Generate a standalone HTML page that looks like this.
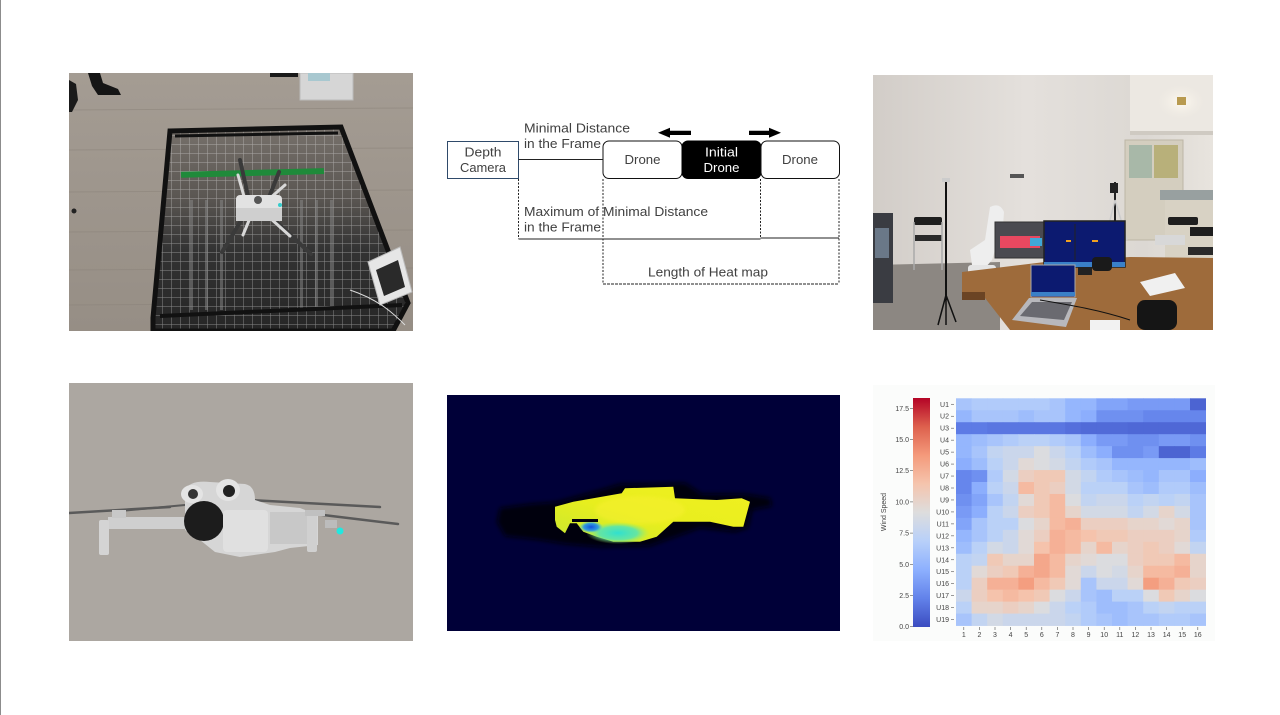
<!DOCTYPE html>
<html><head><meta charset="utf-8"><style>
html,body{margin:0;padding:0;background:#fff;}
body{width:1280px;height:715px;overflow:hidden;position:relative;}
svg{position:absolute;left:0;top:0;}
</style></head><body>
<svg width="1280" height="715" viewBox="0 0 1280 715" xmlns="http://www.w3.org/2000/svg" font-family="Liberation Sans, sans-serif">
<defs>
  <clipPath id="c1"><rect x="69" y="73" width="344" height="258"/></clipPath>
  <clipPath id="c2"><rect x="873" y="75" width="340" height="255"/></clipPath>
  <clipPath id="c3"><rect x="69" y="383" width="344" height="258"/></clipPath>
  <clipPath id="c4"><rect x="447" y="395" width="393" height="236"/></clipPath>
  <filter id="blur2" x="-20%" y="-50%" width="140%" height="200%"><feGaussianBlur stdDeviation="2.5"/></filter>
  <filter id="blur1"><feGaussianBlur stdDeviation="1.5"/></filter>
  <linearGradient id="floor1" x1="0" y1="0" x2="0" y2="1">
    <stop offset="0" stop-color="#a49c93"/><stop offset="1" stop-color="#968e85"/>
  </linearGradient>
  <linearGradient id="cage" x1="0" y1="0" x2="0" y2="1">
    <stop offset="0" stop-color="#77716b"/><stop offset="0.35" stop-color="#5a5652"/><stop offset="0.6" stop-color="#333"/><stop offset="1" stop-color="#262626"/>
  </linearGradient>
  <linearGradient id="wall" x1="0" y1="0" x2="1" y2="0">
    <stop offset="0" stop-color="#d2cdc8"/><stop offset="0.45" stop-color="#e4e0dc"/><stop offset="0.8" stop-color="#dcd8d3"/><stop offset="1" stop-color="#e8e4de"/>
  </linearGradient>
  <linearGradient id="cb" x1="0" y1="1" x2="0" y2="0">
    <stop offset="0" stop-color="#3b4cc0"/>
    <stop offset="0.125" stop-color="#6282ea"/>
    <stop offset="0.25" stop-color="#8db0fe"/>
    <stop offset="0.375" stop-color="#b8d0f9"/>
    <stop offset="0.5" stop-color="#dddddd"/>
    <stop offset="0.625" stop-color="#f5c4ad"/>
    <stop offset="0.75" stop-color="#f49a7b"/>
    <stop offset="0.875" stop-color="#dd604d"/>
    <stop offset="1" stop-color="#b40426"/>
  </linearGradient>
  <linearGradient id="blob" x1="0" y1="1" x2="1" y2="0">
    <stop offset="0" stop-color="#c8e830"/><stop offset="0.45" stop-color="#e8ee1e"/><stop offset="1" stop-color="#f0f020"/>
  </linearGradient>
  <radialGradient id="cyan" cx="0.5" cy="0.5" r="0.5">
    <stop offset="0" stop-color="#30e0d0"/><stop offset="0.6" stop-color="#50e4b8" stop-opacity="0.85"/><stop offset="1" stop-color="#a0f060" stop-opacity="0"/>
  </radialGradient>
  <radialGradient id="blu" cx="0.5" cy="0.5" r="0.5">
    <stop offset="0" stop-color="#1050e0"/><stop offset="0.6" stop-color="#2090f0" stop-opacity="0.9"/><stop offset="1" stop-color="#40d0e0" stop-opacity="0"/>
  </radialGradient>
  <radialGradient id="lamp" cx="0.5" cy="0.5" r="0.5">
    <stop offset="0" stop-color="#fffaf0"/><stop offset="1" stop-color="#e8e4de" stop-opacity="0"/>
  </radialGradient>
  <pattern id="grid1" width="9" height="9" patternUnits="userSpaceOnUse">
    <path d="M0 0H9M0 0V9" stroke="#e8e8e8" stroke-opacity="0.5" stroke-width="1" fill="none"/>
  </pattern>
</defs>

<rect x="0" y="0" width="1280" height="715" fill="#ffffff"/>
<rect x="0" y="0" width="1" height="715" fill="#8c8c8c"/>

<!-- ===== Photo 1: cage with drone ===== -->
<g clip-path="url(#c1)">
  <rect x="69" y="73" width="344" height="258" fill="url(#floor1)"/>
  <g stroke="#8a8279" stroke-width="1" opacity="0.5">
    <line x1="69" y1="110" x2="413" y2="108"/><line x1="69" y1="150" x2="413" y2="148"/>
    <line x1="69" y1="192" x2="413" y2="190"/><line x1="69" y1="232" x2="413" y2="230"/>
    <line x1="69" y1="270" x2="413" y2="268"/><line x1="69" y1="305" x2="413" y2="303"/>
  </g>
  <!-- shoes -->
  <path d="M88 73 L100 73 L103 83 L118 89 L121 95 L98 95 L92 86Z" fill="#151515"/>
  <path d="M69 80 L76 84 L78 100 L72 112 L69 112Z" fill="#1a1a1a"/>
  <rect x="270" y="73" width="28" height="4" fill="#1a1a1a"/>
  <!-- box top -->
  <rect x="300" y="73" width="53" height="27" fill="#d6d6d6" stroke="#bbb"/>
  <rect x="308" y="73" width="22" height="8" fill="#a8c8d0"/>
  <circle cx="74" cy="211" r="2.5" fill="#222"/>
  <!-- cage -->
  <polygon points="170,131 341,127 408,303 393,331 153,331 153,318" fill="url(#cage)"/>
  <polygon points="170,131 341,127 408,303 393,331 153,331 153,318" fill="url(#grid1)"/>
  <rect x="181" y="170" width="143" height="6" fill="#1f8a3a" transform="rotate(-1.5 250 173)"/>
  <g fill="#8a8a8a" opacity="0.5">
    <rect x="190" y="200" width="3" height="110"/><rect x="205" y="200" width="3" height="110"/>
    <rect x="220" y="200" width="3" height="110"/><rect x="300" y="200" width="3" height="110"/>
    <rect x="315" y="200" width="3" height="110"/><rect x="330" y="200" width="3" height="110"/>
  </g>
  <polygon points="170,131 341,127 408,303 393,331 153,331 153,318" fill="none" stroke="#111" stroke-width="5"/>
  <line x1="175" y1="136" x2="338" y2="133" stroke="#111" stroke-width="3"/>
  <line x1="160" y1="316" x2="402" y2="305" stroke="#111" stroke-width="4"/>
  <!-- drone -->
  <g stroke="#3a3a3a" stroke-width="4" stroke-linecap="round">
    <line x1="250" y1="205" x2="240" y2="160"/><line x1="266" y1="205" x2="279" y2="172"/>
    <line x1="245" y1="214" x2="222" y2="252"/><line x1="268" y1="214" x2="311" y2="254"/>
  </g>
  <g stroke="#d8d8d8" stroke-width="3" stroke-linecap="round">
    <line x1="245" y1="200" x2="238" y2="175"/><line x1="268" y1="200" x2="285" y2="185"/>
    <line x1="250" y1="218" x2="243" y2="235"/><line x1="270" y1="218" x2="290" y2="236"/>
  </g>
  <rect x="236" y="195" width="46" height="26" rx="4" fill="#e2e2e2"/>
  <rect x="236" y="208" width="46" height="13" fill="#cfcfcf"/>
  <circle cx="258" cy="200" r="4" fill="#555"/>
  <circle cx="280" cy="205" r="2" fill="#3cc"/>
  <!-- white box right -->
  <polygon points="368,262 400,247 412,292 380,305" fill="#e6e6e6" stroke="#bbb"/>
  <polygon points="376,270 398,260 405,287 384,296" fill="#2a2a2a"/>
  <path d="M350 290 C 380 300, 395 315, 405 325" stroke="#ddd" fill="none"/>
</g>

<!-- ===== Diagram ===== -->
<g font-size="13" fill="#404040">
  <rect x="447.5" y="141.5" width="71" height="37" fill="#fff" stroke="#2f4a6a" stroke-width="1"/>
  <text x="483" y="156.5" text-anchor="middle" textLength="37" lengthAdjust="spacingAndGlyphs">Depth</text>
  <text x="483" y="172" text-anchor="middle" textLength="46" lengthAdjust="spacingAndGlyphs">Camera</text>

  <rect x="603" y="141" width="79" height="37.5" rx="6" fill="#fff" stroke="#111" stroke-width="1"/>
  <rect x="682" y="141" width="79" height="37.5" rx="6" fill="#000" stroke="#000" stroke-width="1"/>
  <rect x="761" y="141" width="78.5" height="37.5" rx="6" fill="#fff" stroke="#111" stroke-width="1"/>
  <text x="642.5" y="164" text-anchor="middle" textLength="36" lengthAdjust="spacingAndGlyphs">Drone</text>
  <text x="721.5" y="156.5" text-anchor="middle" fill="#fff" textLength="33" lengthAdjust="spacingAndGlyphs">Initial</text>
  <text x="721.5" y="172" text-anchor="middle" fill="#fff" textLength="36" lengthAdjust="spacingAndGlyphs">Drone</text>
  <text x="800" y="164" text-anchor="middle" textLength="36" lengthAdjust="spacingAndGlyphs">Drone</text>

  <!-- arrows -->
  <polygon points="658,132.8 670,127.8 670,130.8 691,130.8 691,135 670,135 670,137.8" fill="#000"/>
  <polygon points="781,132.8 769,127.8 769,130.8 749,130.8 749,135 769,135 769,137.8" fill="#000"/>

  <line x1="518.5" y1="159.5" x2="603" y2="159.5" stroke="#222" stroke-width="1"/>
  <text x="524" y="132.5" textLength="106" lengthAdjust="spacingAndGlyphs">Minimal Distance</text>
  <text x="524" y="148" textLength="77" lengthAdjust="spacingAndGlyphs">in the Frame</text>

  <g stroke="#222" stroke-width="1" fill="none">
    <line x1="518.5" y1="179" x2="518.5" y2="239" stroke-dasharray="2,1.5"/>
    <line x1="603" y1="179" x2="603" y2="284" stroke-dasharray="2,1.5"/>
    <line x1="760.5" y1="179" x2="760.5" y2="238.5" stroke-dasharray="2,1.5"/>
    <line x1="839" y1="179" x2="839" y2="284" stroke-dasharray="2,1.5"/>
    <line x1="518.5" y1="239" x2="760.5" y2="239"/>
    <line x1="760.5" y1="238" x2="839" y2="238"/>
    <line x1="603" y1="284" x2="839" y2="284" stroke-dasharray="3,1"/>
  </g>
  <text x="524" y="216" textLength="184" lengthAdjust="spacingAndGlyphs">Maximum of Minimal Distance</text>
  <text x="524" y="231.5" textLength="77" lengthAdjust="spacingAndGlyphs">in the Frame</text>
  <text x="708" y="276.5" text-anchor="middle" textLength="120" lengthAdjust="spacingAndGlyphs">Length of Heat map</text>
</g>

<!-- ===== Photo 2: room ===== -->
<g clip-path="url(#c2)">
  <rect x="873" y="75" width="340" height="255" fill="url(#wall)"/>
  <rect x="1130" y="75" width="83" height="58" fill="#ece8e2"/>
  <ellipse cx="1181" cy="102" rx="30" ry="22" fill="url(#lamp)"/>
  <rect x="1177" y="97" width="9" height="8" fill="#b89a50"/>
  <rect x="1130" y="131" width="83" height="4" fill="#cfcac2"/>
  <!-- floor -->
  <polygon points="873,265 1000,262 1000,330 873,330" fill="#8c8782"/>
  <!-- cabinet -->
  <rect x="1125" y="140" width="58" height="100" fill="#d4cebf" stroke="#bdb6a6"/>
  <rect x="1129" y="145" width="23" height="33" fill="#a8b8a8"/>
  <rect x="1154" y="145" width="24" height="33" fill="#b8b07a"/>
  <rect x="1160" y="190" width="53" height="10" fill="#98a0a0"/>
  <rect x="1165" y="200" width="48" height="60" fill="#d8d2c4"/>
  <!-- left shelf -->
  <rect x="873" y="213" width="20" height="90" fill="#3a3c42"/>
  <rect x="875" y="228" width="14" height="30" fill="#6a7888"/>
  <!-- left chair -->
  <rect x="914" y="217" width="28" height="8" rx="2" fill="#1e1e1e"/>
  <rect x="915" y="235" width="27" height="6" fill="#2a2a2a"/>
  <path d="M914 222 V270 M942 222 V270" stroke="#aaa" stroke-width="1.5"/>
  <!-- tripod left -->
  <line x1="946" y1="180" x2="946" y2="300" stroke="#111" stroke-width="2"/>
  <path d="M946 295 L938 325 M946 295 L956 322 M946 295 L946 325" stroke="#111" stroke-width="1.5"/>
  <rect x="942" y="178" width="8" height="4" fill="#ccc"/>
  <!-- drone small -->
  <rect x="1010" y="174" width="14" height="4" fill="#555"/>
  <!-- robot arm -->
  <path d="M990 207 Q 1000 202 1004 212 L1002 240 Q1000 250 995 250 L992 260 L985 268 L972 265 L970 250 L985 240 Z" fill="#eeeeee"/>
  <rect x="968" y="265" width="28" height="14" rx="3" fill="#e4e4e4"/>
  <!-- led cage -->
  <rect x="995" y="222" width="50" height="36" fill="#4a4a50" stroke="#333"/>
  <rect x="1000" y="236" width="40" height="12" fill="#e84860"/>
  <rect x="1030" y="238" width="12" height="8" fill="#40a8d8"/>
  <!-- tripod right -->
  <line x1="1115" y1="182" x2="1115" y2="235" stroke="#222" stroke-width="2"/>
  <path d="M1115 200 L1105 240 M1115 200 L1127 240" stroke="#ccc" stroke-width="1.5"/>
  <rect x="1110" y="183" width="8" height="10" fill="#222"/>
  <!-- right chairs -->
  <rect x="1168" y="217" width="30" height="8" rx="2" fill="#1e1e1e"/>
  <rect x="1155" y="235" width="30" height="10" fill="#d8d8d8"/>
  <rect x="1190" y="227" width="23" height="9" fill="#1e1e1e"/>
  <rect x="1188" y="247" width="25" height="8" fill="#2a2a2a"/>
  <!-- table -->
  <polygon points="962,272 1045,262 1130,257 1213,258 1213,330 1010,330 985,298 962,298" fill="#9e6b3b"/>
  <polygon points="962,292 985,292 985,300 962,300" fill="#6b4424"/>
  <!-- monitor -->
  <rect x="1044" y="221" width="81" height="46" fill="#0c1a70" stroke="#222" stroke-width="1.5"/>
  <rect x="1044" y="262" width="81" height="5" fill="#3a80c8"/>
  <line x1="1075" y1="224" x2="1075" y2="260" stroke="#222"/>
  <rect x="1066" y="240" width="5" height="2" fill="#f0a020"/>
  <rect x="1092" y="240" width="6" height="2" fill="#f0a020"/>
  <rect x="1078" y="267" width="14" height="8" fill="#222"/>
  <!-- laptop -->
  <rect x="1031" y="265" width="44" height="32" fill="#0c1a70" stroke="#aaa"/>
  <rect x="1031" y="292" width="44" height="4" fill="#3a80c8"/>
  <polygon points="1029,298 1077,298 1066,327 1012,320" fill="#b8b8bc"/>
  <polygon points="1032,302 1072,302 1064,320 1020,316" fill="#6a6a70"/>
  <!-- bags/papers -->
  <rect x="1137" y="300" width="40" height="30" rx="8" fill="#151515"/>
  <rect x="1092" y="257" width="20" height="14" rx="4" fill="#1a1a1a"/>
  <polygon points="1140,282 1175,273 1185,288 1150,296" fill="#f0f0f0"/>
  <rect x="1090" y="320" width="30" height="10" fill="#f2f2f2"/>
  <path d="M1040 300 C 1070 305, 1100 310, 1130 320" stroke="#111" fill="none"/>
</g>

<!-- ===== Photo 3: drone hover ===== -->
<g clip-path="url(#c3)">
  <rect x="69" y="383" width="344" height="258" fill="#aaa59f"/>
  <rect x="69" y="383" width="344" height="258" fill="#b0aba5" opacity="0.4"/>
  <!-- props -->
  <g stroke="#5a5a5a" stroke-linecap="round">
    <line x1="69" y1="513" x2="170" y2="507" stroke-width="2.5"/>
    <line x1="120" y1="511" x2="185" y2="505" stroke-width="2"/>
    <line x1="250" y1="500" x2="380" y2="507" stroke-width="2.5"/>
    <line x1="315" y1="514" x2="398" y2="524" stroke-width="2.5"/>
  </g>
  <!-- left arm and leg -->
  <rect x="108" y="517" width="85" height="12" fill="#cfcfcf"/>
  <rect x="99" y="520" width="10" height="35" rx="2" fill="#d4d4d4"/>
  <rect x="112" y="510" width="14" height="8" fill="#c8c8c8"/>
  <!-- body -->
  <path d="M185 490 Q 190 480 210 482 L 245 484 Q 255 486 255 500 L 270 505 L 300 508 L 318 515 L 318 545 L 290 548 L 275 552 L 240 557 L 215 552 L 200 540 L 185 530 Z" fill="#d6d6d6"/>
  <ellipse cx="192" cy="494" rx="11" ry="9" fill="#e4e4e4"/>
  <circle cx="193" cy="494" r="5" fill="#333"/>
  <ellipse cx="228" cy="490" rx="12" ry="11" fill="#e4e4e4"/>
  <circle cx="229" cy="491" r="6" fill="#222"/>
  <ellipse cx="204" cy="521" rx="20" ry="20" fill="#1c1c1c"/>
  <rect x="223" y="510" width="45" height="42" rx="4" fill="#e0e0e0"/>
  <rect x="270" y="512" width="40" height="32" fill="#c8c8c8"/>
  <rect x="307" y="514" width="10" height="38" rx="2" fill="#d0d0d0"/>
  <rect x="305" y="510" width="20" height="6" fill="#c0c0c0"/>
  <rect x="325" y="520" width="12" height="8" fill="#bcbcbc"/>
  <circle cx="340" cy="531" r="3.5" fill="#20e8e0"/>
</g>

<!-- ===== Depth image ===== -->
<rect x="447" y="395" width="393" height="236" fill="#000038"/>
<g clip-path="url(#c4)">
  <path d="M500 508 L530 504 L556 502 L600 490 L620 484 L685 483 L702 494 L745 494 L770 498 L772 506 L752 510 L748 528 L735 532 L700 528 L672 538 L650 546 L600 547 L565 544 L540 540 L505 536 L497 522 Z" fill="#000008" filter="url(#blur2)"/>
  <polygon points="555,506.7 573.3,501.7 621.7,493.3 625,488.3 673.3,486.7 675,498.3 716.7,500 741.7,498.3 750,501.7 743.3,526.7 733.3,526.7 710,521.7 673.3,521.7 656.7,536.7 640,541.7 613.3,541.7 596.7,536.7 583.3,531.7 576.7,523.3 570,523.3 565,533.3 556.7,526.7 555,520" fill="url(#blob)"/>
  <ellipse cx="640" cy="510" rx="45" ry="14" fill="#f8f030" opacity="0.5" filter="url(#blur1)"/>
  <ellipse cx="618" cy="533" rx="32" ry="11" fill="url(#cyan)"/>
  <ellipse cx="591" cy="527" rx="12" ry="6" fill="url(#blu)"/>
  <rect x="572" y="519" width="26" height="3" fill="#000010"/>
</g>

<!-- ===== Heatmap ===== -->
<rect x="873" y="385" width="342" height="256" fill="#fbfcfb"/>
<rect x="913" y="398" width="17" height="229" fill="url(#cb)"/>
<g id="hm"></g>
<g font-size="7" fill="#444" id="hmlab">
  <text x="886" y="512" text-anchor="middle" transform="rotate(-90 886 512)">Wind Speed</text>
</g>
</svg>
<script>
(function(){
var V=[
[6,6.5,6.5,6.5,6.5,6.5,6,5,5,4,4,3.5,3.5,3.5,3.5,1],
[5,6,6,6,5.5,6,6,5,4.5,3,3,3,2.5,2.5,2.5,2.5],
[2,2,1.8,1.8,1.8,1.8,1.8,1.5,1.3,1.3,1.3,1.2,1.2,1.2,1.2,1.2],
[5,5.5,6,6.5,7,7,6.5,6,4.5,3.5,3.5,3,3,3.5,3.5,3],
[5,6,7.5,8,8,9,8,7,5.5,4.5,3,3,3.5,1,1,2],
[4.5,5.5,7,8,9.5,9,8.5,7.5,6.5,6,5,5,5,5,5,5.5],
[2.5,3,6.5,8.5,10.5,11,11,8.5,7.5,6.5,6,5.5,5,6,6,4.5],
[2.5,4.5,7,8,12,11,10.5,8.5,7,7,7,6,5.5,6.5,6.5,5.5],
[3,4,6,7.5,9.5,11,12,9,7.5,8,8,7,7.5,7,7.5,6],
[3.5,4.5,7,8,10.5,11,12,10,8.5,8.5,8.5,7.5,8.5,10,8.5,6],
[4,6,7,7,9,10,12,12.5,10.5,10.5,10.5,10,10,9.5,10,6],
[5,6,7,8,9.5,10.5,12.5,12,11.5,11,11,10.5,10.5,10.5,10,6.5],
[5.5,7,8.5,8,9.5,11.5,12.5,12,10,12,10,10.5,11,10.5,9.5,7.5],
[7,7.5,11,10,10,13,12,10,9.5,9,9,10.5,11,11,12,10],
[7,9.5,10.5,11,12.5,13,12,9.5,8,9,8.5,10,12,12,12.5,10],
[7,10.5,12.5,12.5,13.5,12,11,9.5,6,8,8,9.5,13.5,12.5,11,10.5],
[8,10.5,11.5,12,11.5,11,9,8,6,5.5,7,7,9,11,10,9],
[7,10,10,10.5,10,9,8,7,6.5,5.5,5.5,6,7,7.5,7,7],
[6,7.5,8.5,8,8,8,8,7.5,6.5,6,5.5,6,6,6.5,6.5,6]];
var S=[[0,59,76,192],[.125,98,130,234],[.25,141,176,254],[.375,184,208,249],[.5,221,221,221],[.625,245,196,173],[.75,244,154,123],[.875,221,96,77],[1,180,4,38]];
function col(v){var t=v/18.3;if(t<0)t=0;if(t>1)t=1;for(var i=0;i<S.length-1;i++){if(t<=S[i+1][0]){var f=(t-S[i][0])/(S[i+1][0]-S[i][0]);var r=Math.round(S[i][1]+f*(S[i+1][1]-S[i][1])),g=Math.round(S[i][2]+f*(S[i+1][2]-S[i][2])),b=Math.round(S[i][3]+f*(S[i+1][3]-S[i][3]));return 'rgb('+r+','+g+','+b+')';}}return 'rgb(180,4,38)';}
var ns='http://www.w3.org/2000/svg';var g=document.getElementById('hm');var lab=document.getElementById('hmlab');
var x0=956,y0=398.3,cw=15.6,ch=11.96;
for(var r=0;r<19;r++){for(var c=0;c<16;c++){var e=document.createElementNS(ns,'rect');e.setAttribute('x',(x0+c*cw).toFixed(2));e.setAttribute('y',(y0+r*ch).toFixed(2));e.setAttribute('width',(cw+0.4).toFixed(2));e.setAttribute('height',(ch+0.4).toFixed(2));e.setAttribute('fill',col(V[r][c]));g.appendChild(e);}
 var t=document.createElementNS(ns,'text');t.setAttribute('x','949');t.setAttribute('y',(y0+(r+0.5)*ch+2.5).toFixed(2));t.setAttribute('text-anchor','end');t.textContent='U'+(r+1);lab.appendChild(t);
 var tk=document.createElementNS(ns,'line');tk.setAttribute('x1','951');tk.setAttribute('x2','954');tk.setAttribute('y1',(y0+(r+0.5)*ch).toFixed(2));tk.setAttribute('y2',(y0+(r+0.5)*ch).toFixed(2));tk.setAttribute('stroke','#555');tk.setAttribute('stroke-width','0.6');lab.appendChild(tk);}
for(var c=0;c<16;c++){var cx=x0+(c+0.5)*cw;var t=document.createElementNS(ns,'text');t.setAttribute('x',cx.toFixed(2));t.setAttribute('y','637');t.setAttribute('text-anchor','middle');t.textContent=String(c+1);lab.appendChild(t);
 var tk=document.createElementNS(ns,'line');tk.setAttribute('x1',cx.toFixed(2));tk.setAttribute('x2',cx.toFixed(2));tk.setAttribute('y1','627');tk.setAttribute('y2','630');tk.setAttribute('stroke','#555');tk.setAttribute('stroke-width','0.6');lab.appendChild(tk);}
var ticks=['0.0','2.5','5.0','7.5','10.0','12.5','15.0','17.5'];
for(var i=0;i<ticks.length;i++){var y=626.7-i*2.5*12.48;var t=document.createElementNS(ns,'text');t.setAttribute('x','909');t.setAttribute('y',(y+2.5).toFixed(2));t.setAttribute('text-anchor','end');t.textContent=ticks[i];lab.appendChild(t);
 var tk=document.createElementNS(ns,'line');tk.setAttribute('x1','910');tk.setAttribute('x2','913');tk.setAttribute('y1',y.toFixed(2));tk.setAttribute('y2',y.toFixed(2));tk.setAttribute('stroke','#555');tk.setAttribute('stroke-width','0.6');lab.appendChild(tk);}
})();
</script>
</body></html>
